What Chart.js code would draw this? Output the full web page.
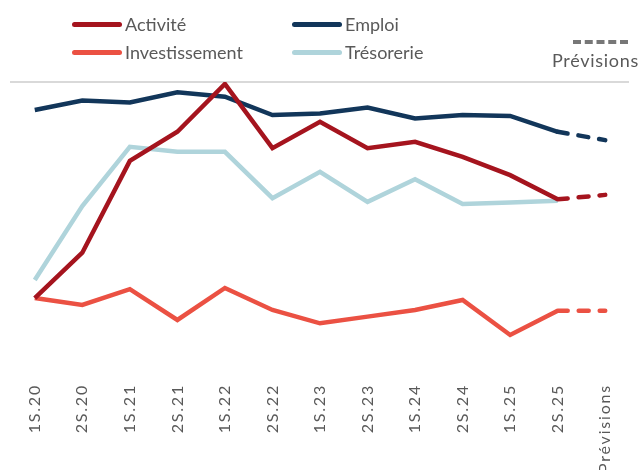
<!DOCTYPE html>
<html lang="fr">
<head>
<meta charset="utf-8">
<script src="https://cdn.jsdelivr.net/npm/chart.js@4"></script>
<style>
  body { margin: 0; background: #fff; }
  #wrap { position: relative; width: 643px; height: 470px; overflow: hidden; }
  #chart { position: absolute; left: 0; top: 0; }
  .leg { position: absolute; font: 18px Lato, sans-serif; color: #595959; white-space: nowrap; }
  .leg .ln { position: absolute; width: 50px; height: 5px; border-radius: 3px; }
  .prev { position: absolute; font: 18px Lato, sans-serif; color: #595959; letter-spacing: 0.7px; }
  .dash { position: absolute; height: 4px; border-top: 4px dashed #777; }
</style>
</head>
<body>
<div id="wrap">
  <canvas id="chart" width="643" height="470"></canvas>
  <div id="legend"></div>
</div>
<script>
// ======= Data =======
const labels = ["1S.20","2S.20","1S.21","2S.21","1S.22","2S.22","1S.23","2S.23","1S.24","2S.24","1S.25","2S.25","Prévisions"];
const activite       = [22.3, 38.6, 71.6, 82.1, 99.3, 76.2, 85.7, 76.2, 78.5, 73.1, 66.5, 57.8, 59.4];
const emploi         = [89.9, 93.3, 92.6, 96.3, 94.7, 88.1, 88.7, 90.8, 86.9, 88.1, 87.8, 82.1, 79.1];
const investissement = [22.3, 19.8, 25.5, 14.4, 25.9, 18.0, 13.2, 15.6, 18.0, 21.6, 9.0, 17.7, 17.7];
const tresorerie     = [28.8, 55.4, 76.7, 74.9, 74.9, 58.2, 67.7, 56.9, 65.0, 56.1, 56.7, 57.3, null];

const series = [
  { name: "Activité",       data: activite,       color: "#A5141E" },
  { name: "Emploi",         data: emploi,         color: "#12365A" },
  { name: "Investissement", data: investissement, color: "#EB5143" },
  { name: "Trésorerie",     data: tresorerie,     color: "#AFD4DB" }
];

// ======= Legend (html) =======
const legendEl = document.getElementById("legend");
const legPos = [[72, 13], [292, 13], [72, 41], [292, 41]];
series.forEach((s, i) => {
  const [x, y] = legPos[i];
  const item = document.createElement("div");
  item.className = "leg";
  item.style.left = x + "px";
  item.style.top = y + "px";
  item.innerHTML = `<span class="ln" style="left:0;top:9px;background:${s.color}"></span>` +
                   `<span style="margin-left:53px">${s.name}</span>`;
  legendEl.appendChild(item);
});
const dash = document.createElement("div");
dash.className = "dash";
dash.style.cssText = "left:573px;top:40px;width:55px;height:0;";
legendEl.appendChild(dash);
const prev = document.createElement("div");
prev.className = "prev";
prev.style.cssText = "left:552px;top:49px;";
prev.textContent = "Prévisions";
legendEl.appendChild(prev);

// ======= Plugins =======
const lastIdx = labels.length - 1;
const topLine = {
  id: "topLine",
  beforeDraw(chart) {
    chart.ctx.letterSpacing = "1.8px";
  },
  beforeDatasetsDraw(chart) {
    const { ctx, chartArea } = chart;
    ctx.save();
    ctx.letterSpacing = "0px";
    ctx.strokeStyle = "#d9d9d9";
    ctx.lineWidth = 2;
    ctx.beginPath();
    ctx.moveTo(chartArea.left - 1, chartArea.top);
    ctx.lineTo(chartArea.right, chartArea.top);
    ctx.stroke();
    ctx.restore();
  }
};

// ======= Chart =======
new Chart(document.getElementById("chart"), {
  type: "line",
  data: {
    labels,
    datasets: series.map(s => ({
      label: s.name,
      data: s.data,
      borderColor: s.color,
      backgroundColor: s.color,
      borderWidth: 4.5,
      pointRadius: 0,
      tension: 0,
      spanGaps: false,
      segment: {
        borderDash: ctx => ctx.p1DataIndex === lastIdx ? [10, 11] : undefined,
        borderCapStyle: ctx => ctx.p1DataIndex === lastIdx ? "round" : undefined
      }
    }))
  },
  options: {
    responsive: false,
    animation: false,
    layout: { padding: { top: 82, left: 11, right: 14, bottom: 0 } },
    plugins: { legend: { display: false }, tooltip: { enabled: false } },
    scales: {
      x: {
        offset: true,
        grid: { display: false },
        border: { display: false },
        ticks: {
          autoSkip: false,
          minRotation: 90,
          maxRotation: 90,
          padding: -5,
          color: "#595959",
          font: { family: "Lato", size: 16 }
        },
        afterFit: (scale) => { scale.height = 89; }
      },
      y: {
        display: false,
        min: -7.55,
        max: 100
      }
    }
  },
  plugins: [topLine]
});
</script>
</body>
</html>
